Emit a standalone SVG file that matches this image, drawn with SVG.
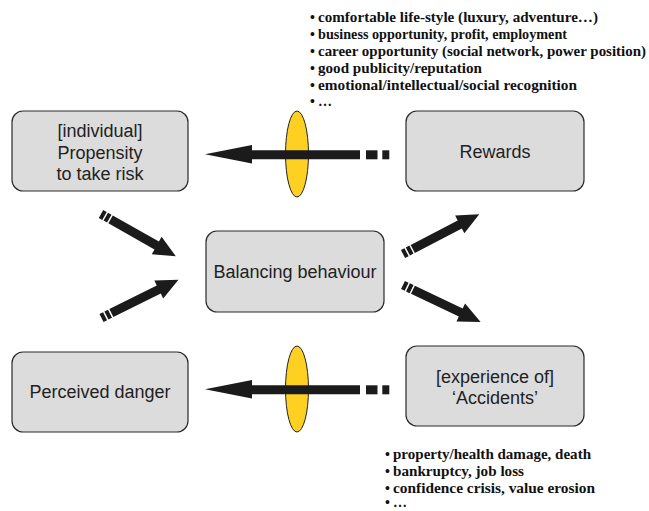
<svg xmlns="http://www.w3.org/2000/svg" xmlns:xlink="http://www.w3.org/1999/xlink" width="649" height="511" viewBox="0 0 649 511">
  <style>
    .box { fill: #dcdcdd; stroke: #2a2a2a; stroke-width: 1.2; }
    .label { font-family: "Liberation Sans", Arial, sans-serif; font-size: 18px; fill: #222; text-anchor: middle; }
    .note { font-family: "Liberation Serif", "Times New Roman", serif; font-size: 14px; font-weight: bold; fill: #111; }
    .arrow { fill: #1b1b1b; }
    .lens { fill: #fdd022; stroke: #222; stroke-width: 1; }
  </style>
  <defs>
    <!-- diagonal arrow, pointing along +x, tail at origin -->
    <path id="diag" d="M0,-4.5 H4 V4.5 H0 Z M5.5,-4.5 H9.5 V4.5 H5.5 Z M11,-4.5 H64 V-10 L86,0 L64,10 V4.5 H11 Z"/>
  </defs>

  <rect width="649" height="511" fill="#ffffff"/>

  <!-- nodes -->
  <g id="propensity">
    <rect class="box" x="12" y="111" width="176" height="80" rx="11"/>
    <text class="label" x="100" y="137">[individual]</text>
    <text class="label" x="100" y="158.5">Propensity</text>
    <text class="label" x="100" y="180">to take risk</text>
  </g>
  <g id="rewards">
    <rect class="box" x="406" y="111" width="178" height="80" rx="11"/>
    <text class="label" x="495" y="158">Rewards</text>
  </g>
  <g id="balancing">
    <rect class="box" x="206" y="231" width="178" height="81" rx="11"/>
    <text class="label" x="295" y="278">Balancing behaviour</text>
  </g>
  <g id="danger">
    <rect class="box" x="12" y="352" width="176" height="80" rx="11"/>
    <text class="label" x="100" y="398">Perceived danger</text>
  </g>
  <g id="accidents">
    <rect class="box" x="406" y="346" width="178" height="80" rx="11"/>
    <text class="label" x="495" y="383">[experience of]</text>
    <text class="label" x="495" y="404">‘Accidents’</text>
  </g>

  <!-- perception filters -->
  <g id="filters">
    <ellipse class="lens" cx="297" cy="154" rx="11.5" ry="43"/>
    <ellipse class="lens" cx="297" cy="389" rx="11.5" ry="43"/>
  </g>

  <!-- connectors -->
  <g id="connectors" class="arrow">
    <path d="M205,154.3 L252,145 V150.3 H360 V159.3 H252 V163.6 Z"/>
    <rect x="366" y="150.3" width="11.5" height="9"/>
    <rect x="382.3" y="150.3" width="7" height="9"/>

    <path d="M205,389.3 L252,380 V385.3 H360 V394.3 H252 V398.6 Z"/>
    <rect x="366" y="385.3" width="11.5" height="9"/>
    <rect x="382.3" y="385.3" width="7" height="9"/>

    <use xlink:href="#diag" transform="translate(101,214) rotate(29.5)"/>
    <use xlink:href="#diag" transform="translate(101.5,318) rotate(-26.5)"/>
    <use xlink:href="#diag" transform="translate(403,254) rotate(-27.5)"/>
    <use xlink:href="#diag" transform="translate(403,285) rotate(25.5)"/>
  </g>

  <!-- reward items -->
  <g id="reward-items" class="note">
    <text x="310" y="22">•<tspan x="318" textLength="280" lengthAdjust="spacingAndGlyphs">comfortable life-style (luxury, adventure…)</tspan></text>
    <text x="310" y="39">•<tspan x="318" textLength="249" lengthAdjust="spacingAndGlyphs">business opportunity, profit, employment</tspan></text>
    <text x="310" y="56">•<tspan x="318" textLength="328" lengthAdjust="spacingAndGlyphs">career opportunity (social network, power position)</tspan></text>
    <text x="310" y="73">•<tspan x="318" textLength="164" lengthAdjust="spacingAndGlyphs">good publicity/reputation</tspan></text>
    <text x="310" y="90">•<tspan x="318" textLength="259" lengthAdjust="spacingAndGlyphs">emotional/intellectual/social recognition</tspan></text>
    <text x="310" y="106">•<tspan x="318">…</tspan></text>
  </g>

  <!-- accident items -->
  <g id="accident-items" class="note">
    <text x="385" y="459">•<tspan x="393" textLength="198" lengthAdjust="spacingAndGlyphs">property/health damage, death</tspan></text>
    <text x="385" y="476">•<tspan x="393" textLength="131" lengthAdjust="spacingAndGlyphs">bankruptcy, job loss</tspan></text>
    <text x="385" y="493">•<tspan x="393" textLength="202" lengthAdjust="spacingAndGlyphs">confidence crisis, value erosion</tspan></text>
    <text x="385" y="507">•<tspan x="393">…</tspan></text>
  </g>
</svg>
